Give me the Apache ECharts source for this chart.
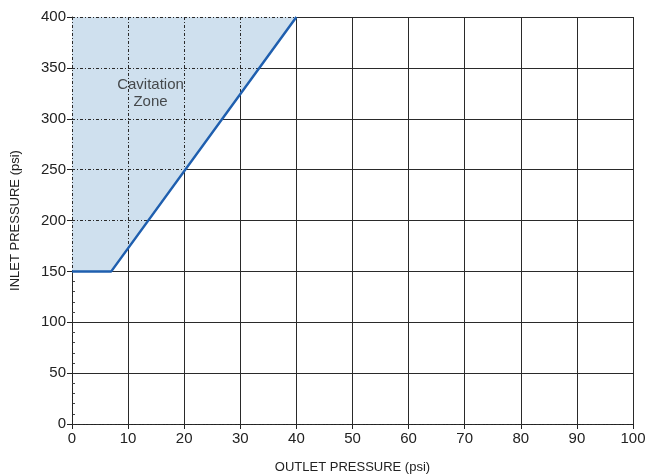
<!DOCTYPE html>
<html>
<head>
<meta charset="utf-8">
<script src="https://cdn.jsdelivr.net/npm/echarts@6/dist/echarts.min.js"></script>
<style>html,body{margin:0;padding:0;background:#fff;}#c{width:658px;height:476px;}</style>
</head>
<body>
<div id="c"></div>
<script>
// Boundary of the cavitation zone (outlet psi, inlet psi)
const boundaryX = [0, 7, 40];
const boundaryY = [150, 150, 400];
const zoneLabel = 'Cavitation\nZone';
const zoneLabelPos = [14, 325];
const xTitle = 'OUTLET PRESSURE (psi)';
const yTitle = 'INLET PRESSURE (psi)';

const boundary = boundaryX.map((x, i) => [x, boundaryY[i]]);
const FONT = 'Liberation Sans, Arial, sans-serif';
const gridRect = { left: 72, right: 25, top: 17, bottom: 52, containLabel: false, outerBoundsMode: 'none' };
const GRIDCOL = '#2a2a2a';

const chart = echarts.init(document.getElementById('c'));
chart.setOption({
  backgroundColor: '#fff',
  animation: false,
  grid: [
    Object.assign({}, gridRect),
    Object.assign({}, gridRect),
    Object.assign({}, gridRect)
  ],
  xAxis: [
    {
      gridIndex: 0, type: 'value', min: 0, max: 100, interval: 10, z: 0,
      name: xTitle, nameLocation: 'middle', nameGap: 37,
      nameTextStyle: { fontFamily: FONT, fontSize: 13, color: '#222' },
      axisLine: { show: true, lineStyle: { color: '#222', width: 1 } },
      axisTick: { show: true, inside: false, length: 5, lineStyle: { color: '#222' } },
      axisLabel: { margin: 7, fontFamily: FONT, fontSize: 15, color: '#222' },
      splitLine: { show: true, lineStyle: { color: GRIDCOL, width: 1, type: 'solid' } }
    },
    {
      gridIndex: 1, type: 'value', min: 0, max: 100, interval: 10, z: 3,
      axisLine: { show: false }, axisTick: { show: false }, axisLabel: { show: false },
      splitLine: { show: true, lineStyle: { color: GRIDCOL, width: 1, type: [3, 2, 1, 2] } }
    },
    {
      gridIndex: 2, type: 'value', min: 0, max: 100, interval: 10, z: 1,
      axisLine: { show: false }, axisTick: { show: false }, axisLabel: { show: false },
      splitLine: { show: false }
    }
  ],
  yAxis: [
    {
      gridIndex: 0, type: 'value', min: 0, max: 400, interval: 50, z: 0,
      name: yTitle, nameLocation: 'middle', nameGap: 50, nameRotate: 90,
      nameTextStyle: { fontFamily: FONT, fontSize: 13, color: '#222' },
      axisLine: { show: true, lineStyle: { color: '#222', width: 1 } },
      axisTick: { show: true, inside: false, length: 5, lineStyle: { color: '#222' } },
      axisLabel: { margin: 6, fontFamily: FONT, fontSize: 15, color: '#222' },
      splitLine: { show: true, lineStyle: { color: GRIDCOL, width: 1, type: 'solid' } }
    },
    {
      gridIndex: 1, type: 'value', min: 0, max: 400, interval: 50, z: 3,
      axisLine: { show: false }, axisTick: { show: false }, axisLabel: { show: false },
      splitLine: { show: true, lineStyle: { color: GRIDCOL, width: 1, type: [3, 2, 1, 2] } }
    },
    {
      gridIndex: 2, type: 'value', min: 0, max: 400, interval: 10, z: 1,
      axisLine: { show: false },
      axisTick: { show: true, inside: true, length: 3, lineStyle: { color: '#444', width: 1 } },
      axisLabel: { show: false },
      splitLine: { show: false }
    }
  ],
  series: [
    {
      type: 'line', xAxisIndex: 0, yAxisIndex: 0, z: 2,
      data: boundary, symbol: 'none', silent: true,
      lineStyle: { width: 0, opacity: 0 },
      areaStyle: { color: '#cfe0ee', opacity: 1, origin: 'end' }
    },
    {
      type: 'line', xAxisIndex: 0, yAxisIndex: 0, z: 4,
      data: boundary, symbol: 'none', silent: true,
      lineStyle: { width: 2.5, color: '#1f5faf' }
    },
    {
      type: 'scatter', xAxisIndex: 0, yAxisIndex: 0, z: 5,
      data: [zoneLabelPos], symbolSize: 0, silent: true,
      label: {
        show: true, position: 'inside', formatter: zoneLabel,
        fontFamily: FONT, fontSize: 15, color: '#222', lineHeight: 17, align: 'center'
      }
    }
  ]
});
</script>
</body>
</html>
